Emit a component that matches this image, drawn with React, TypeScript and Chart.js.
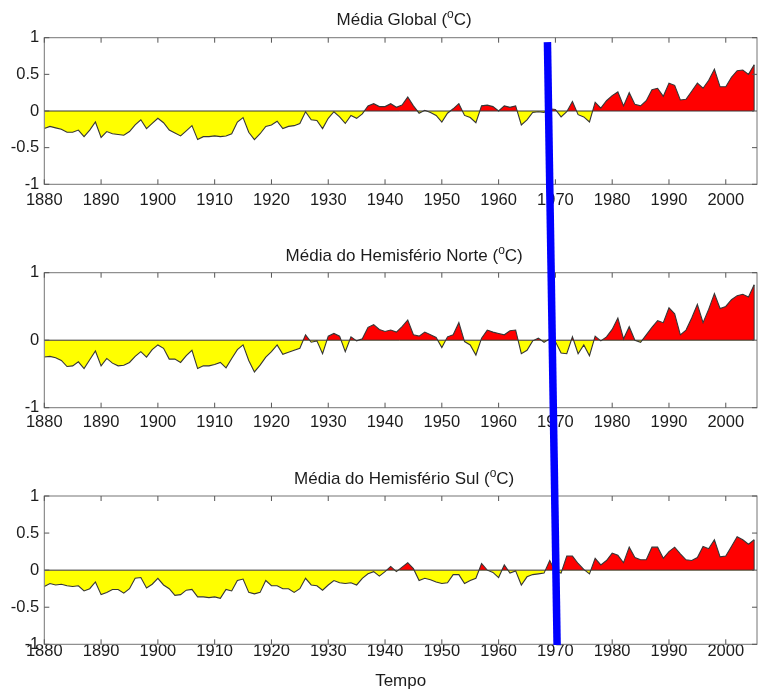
import React, { useEffect, useRef } from "react";
import { Chart, registerables } from "chart.js";

Chart.register(...registerables);

// Annual temperature anomalies (°C), one value per year starting at FIRST_YEAR.
const FIRST_YEAR = 1880;

const GLOBAL = [
  -0.24, -0.21, -0.23, -0.25, -0.29, -0.29, -0.26, -0.35, -0.26, -0.15,
  -0.36, -0.28, -0.31, -0.32, -0.33, -0.28, -0.19, -0.12, -0.24, -0.17,
  -0.10, -0.16, -0.26, -0.30, -0.34, -0.27, -0.20, -0.39, -0.35, -0.35,
  -0.34, -0.35, -0.34, -0.31, -0.15, -0.09, -0.29, -0.39, -0.31, -0.21,
  -0.19, -0.14, -0.24, -0.21, -0.20, -0.17, -0.01, -0.12, -0.13, -0.24,
  -0.10, -0.01, -0.08, -0.17, -0.06, -0.10, -0.04, 0.07, 0.10, 0.06,
  0.06, 0.10, 0.05, 0.08, 0.19, 0.07, -0.03, 0.01, -0.02, -0.06,
  -0.15, -0.03, 0.03, 0.10, -0.06, -0.09, -0.16, 0.07, 0.08, 0.06,
  0.00, 0.07, 0.05, 0.07, -0.19, -0.12, -0.02, -0.01, -0.02, 0.03,
  0.02, -0.08, -0.01, 0.13, -0.05, -0.08, -0.15, 0.12, 0.04, 0.14,
  0.21, 0.26, 0.07, 0.25, 0.09, 0.07, 0.14, 0.29, 0.31, 0.20,
  0.38, 0.35, 0.15, 0.16, 0.27, 0.38, 0.31, 0.42, 0.57, 0.33,
  0.33, 0.46, 0.55, 0.56, 0.50, 0.63,
];

const NORTH = [
  -0.25, -0.24, -0.26, -0.30, -0.39, -0.38, -0.32, -0.42, -0.29, -0.16,
  -0.38, -0.27, -0.34, -0.38, -0.37, -0.33, -0.24, -0.17, -0.25, -0.14,
  -0.07, -0.12, -0.28, -0.28, -0.33, -0.23, -0.15, -0.42, -0.38, -0.38,
  -0.36, -0.33, -0.41, -0.27, -0.14, -0.07, -0.30, -0.47, -0.37, -0.25,
  -0.17, -0.07, -0.21, -0.18, -0.15, -0.12, 0.08, -0.03, -0.01, -0.20,
  0.06, 0.10, 0.06, -0.17, 0.05, -0.01, 0.02, 0.19, 0.23, 0.16,
  0.13, 0.15, 0.12, 0.20, 0.30, 0.08, 0.06, 0.12, 0.08, 0.04,
  -0.11, 0.05, 0.08, 0.26, -0.02, -0.07, -0.22, 0.03, 0.15, 0.12,
  0.10, 0.08, 0.14, 0.15, -0.20, -0.15, -0.01, 0.03, -0.03, 0.02,
  -0.02, -0.19, -0.20, 0.05, -0.20, -0.07, -0.23, 0.06, -0.01, 0.05,
  0.16, 0.33, 0.02, 0.20, 0.00, -0.03, 0.08, 0.19, 0.29, 0.26,
  0.48, 0.39, 0.08, 0.15, 0.33, 0.53, 0.26, 0.46, 0.69, 0.47,
  0.50, 0.60, 0.66, 0.68, 0.64, 0.82,
];

const SOUTH = [
  -0.22, -0.18, -0.20, -0.19, -0.21, -0.22, -0.21, -0.28, -0.25, -0.16,
  -0.33, -0.30, -0.26, -0.26, -0.31, -0.25, -0.11, -0.10, -0.24, -0.19,
  -0.11, -0.20, -0.25, -0.34, -0.33, -0.27, -0.26, -0.36, -0.36, -0.37,
  -0.36, -0.38, -0.26, -0.28, -0.14, -0.12, -0.30, -0.32, -0.30, -0.14,
  -0.21, -0.21, -0.25, -0.25, -0.30, -0.25, -0.11, -0.20, -0.21, -0.27,
  -0.20, -0.14, -0.17, -0.18, -0.17, -0.20, -0.11, -0.05, -0.02, -0.08,
  -0.02, 0.05, -0.02, 0.04, 0.10, 0.02, -0.14, -0.11, -0.13, -0.16,
  -0.18, -0.17, -0.06, -0.06, -0.18, -0.14, -0.11, 0.09, 0.00, -0.03,
  -0.10, 0.07, -0.04, -0.01, -0.20, -0.09, -0.06, -0.05, -0.04, 0.13,
  -0.02, -0.04, 0.19, 0.19, 0.09, 0.01, -0.05, 0.16, 0.07, 0.13,
  0.23, 0.20, 0.10, 0.31, 0.17, 0.14, 0.14, 0.31, 0.31, 0.16,
  0.25, 0.31, 0.22, 0.14, 0.13, 0.17, 0.32, 0.29, 0.41, 0.18,
  0.19, 0.32, 0.45, 0.41, 0.35, 0.41,
];

const X_TICKS = [1880, 1890, 1900, 1910, 1920, 1930, 1940, 1950, 1960, 1970, 1980, 1990, 2000];
const Y_TICKS_FINE = [-1, -0.5, 0, 0.5, 1];
const Y_TICKS_COARSE = [-1, 0, 1];

const TITLES = ["Média Global", "Média do Hemisfério Norte", "Média do Hemisfério Sul"];
const UNIT_SUP = "o";
const UNIT_LETTER = "C";
const X_LABEL = "Tempo";

// Slanted marker line drawn across the three panels (year, anomaly at each end).
const MARKER = { topYear: 1968.6, topValue: 0.94, bottomYear: 1970.3, bottomValue: -1.01 };

// Styling
const FONT_FAMILY = '"Liberation Sans", Arial, Helvetica, sans-serif';
const TEXT_COLOR = "#1c1c1c";
const ABOVE_COLOR = "#ff0000";
const BELOW_COLOR = "#ffff00";
const LINE_COLOR = "#363636";
const FRAME_COLOR = "#757575";
const TICK_COLOR = "#555555";
const MARKER_COLOR = "#0000ff";
const WIDTH = 758;

type Panel = {
  series: number[];
  title: string;
  yTicks: number[];
  top: number;
  height: number;
  padTop: number;
  axisHeight: number;
  xTickPad: number;
  titleBaseline: number;
  xTitle: boolean;
};

const PANELS: Panel[] = [
  { series: GLOBAL, title: TITLES[0], yTicks: Y_TICKS_FINE, top: 0, height: 230, padTop: 37.7, axisHeight: 45.7, xTickPad: 5.8, titleBaseline: 25.3, xTitle: false },
  { series: NORTH, title: TITLES[1], yTicks: Y_TICKS_COARSE, top: 230, height: 230, padTop: 42.7, axisHeight: 52.3, xTickPad: 4.9, titleBaseline: 30.7, xTitle: false },
  { series: SOUTH, title: TITLES[2], yTicks: Y_TICKS_FINE, top: 460, height: 232, padTop: 36, axisHeight: 47.7, xTickPad: -2.5, titleBaseline: 24, xTitle: true },
];

const font = (size: number) => `${size}px ${FONT_FAMILY}`;

function decorPlugin(idx: number, charts: (Chart | null)[]) {
  const panel = PANELS[idx];
  return {
    id: "panelDecor" + idx,
    afterDatasetsDraw(chart: any) {
      const { ctx, chartArea: a, scales } = chart;
      const x = scales.x;
      const y = scales.y;
      const last = panel.series.length - 1;
      const lastYear = FIRST_YEAR + last;
      ctx.save();
      // zero baseline and closing edge of the area
      ctx.strokeStyle = LINE_COLOR;
      ctx.lineWidth = 1;
      ctx.beginPath();
      ctx.moveTo(x.getPixelForValue(FIRST_YEAR), y.getPixelForValue(0));
      ctx.lineTo(x.getPixelForValue(lastYear), y.getPixelForValue(0));
      ctx.lineTo(x.getPixelForValue(lastYear), y.getPixelForValue(panel.series[last]));
      ctx.stroke();

      // axes box
      ctx.strokeStyle = FRAME_COLOR;
      ctx.lineWidth = 1;
      ctx.strokeRect(a.left, a.top, a.right - a.left, a.bottom - a.top);

      // inward tick marks on all four sides
      const tl = 5;
      ctx.strokeStyle = TICK_COLOR;
      ctx.beginPath();
      X_TICKS.forEach((v) => {
        const px = x.getPixelForValue(v);
        ctx.moveTo(px, a.bottom);
        ctx.lineTo(px, a.bottom - tl);
        ctx.moveTo(px, a.top);
        ctx.lineTo(px, a.top + tl);
      });
      panel.yTicks.forEach((v) => {
        const py = y.getPixelForValue(v);
        ctx.moveTo(a.left, py);
        ctx.lineTo(a.left + tl, py);
        ctx.moveTo(a.right, py);
        ctx.lineTo(a.right - tl, py);
      });
      ctx.stroke();
      ctx.restore();
    },
    afterDraw(chart: any) {
      const { ctx, chartArea: a } = chart;
      ctx.save();
      // panel title with superscript degree sign
      const main = panel.title + " (";
      const tail = UNIT_LETTER + ")";
      ctx.fillStyle = TEXT_COLOR;
      ctx.textBaseline = "alphabetic";
      ctx.textAlign = "left";
      ctx.font = font(17);
      const wMain = ctx.measureText(main).width;
      const wTail = ctx.measureText(tail).width;
      ctx.font = font(12);
      const wSup = ctx.measureText(UNIT_SUP).width;
      const total = wMain + wSup + wTail;
      let tx = (a.left + a.right) / 2 + 3.5 - total / 2;
      const base = panel.titleBaseline;
      ctx.font = font(17);
      ctx.fillText(main, tx, base);
      tx += wMain;
      ctx.font = font(12);
      ctx.fillText(UNIT_SUP, tx, base - 7);
      tx += wSup;
      ctx.font = font(17);
      ctx.fillText(tail, tx, base);

      // marker line spanning all panels
      const first = charts[0];
      const third = charts[2];
      if (first && third) {
        const fs: any = first.scales;
        const ts: any = third.scales;
        const x0 = fs.x.getPixelForValue(MARKER.topYear);
        const y0 = PANELS[0].top + fs.y.getPixelForValue(MARKER.topValue);
        const x1 = ts.x.getPixelForValue(MARKER.bottomYear);
        const y1 = PANELS[2].top + ts.y.getPixelForValue(MARKER.bottomValue);
        ctx.strokeStyle = MARKER_COLOR;
        ctx.lineWidth = 7.5;
        ctx.lineCap = "butt";
        ctx.beginPath();
        ctx.moveTo(x0, y0 - panel.top);
        ctx.lineTo(x1, y1 - panel.top);
        ctx.stroke();
      }
      ctx.restore();
    },
  };
}

export default function App() {
  const refs = [useRef<HTMLCanvasElement>(null), useRef<HTMLCanvasElement>(null), useRef<HTMLCanvasElement>(null)];

  useEffect(() => {
    const charts: (Chart | null)[] = [null, null, null];
    PANELS.forEach((panel, idx) => {
      const canvas = refs[idx].current;
      if (!canvas) return;
      const points = panel.series.map((v, i) => ({ x: FIRST_YEAR + i, y: v }));
      charts[idx] = new Chart(canvas, {
        type: "line",
        data: {
          datasets: [
            {
              data: points,
              borderColor: LINE_COLOR,
              borderWidth: 1.1,
              pointRadius: 0,
              tension: 0,
              fill: { target: { value: 0 }, above: ABOVE_COLOR, below: BELOW_COLOR },
            },
          ],
        },
        options: {
          responsive: false,
          animation: false,
          devicePixelRatio: 1,
          events: [],
          layout: { padding: { top: panel.padTop, bottom: 0, left: 0, right: 1 } },
          plugins: {
            legend: { display: false },
            tooltip: { enabled: false },
            title: { display: false },
          },
          scales: {
            x: {
              type: "linear",
              min: FIRST_YEAR,
              max: 2005.5,
              grid: { display: false, drawTicks: false },
              border: { display: false },
              afterBuildTicks: (s: any) => {
                s.ticks = X_TICKS.map((v) => ({ value: v }));
              },
              afterFit: (s: any) => {
                s.height = panel.axisHeight;
              },
              ticks: {
                autoSkip: false,
                maxRotation: 0,
                padding: panel.xTickPad,
                color: TEXT_COLOR,
                font: { family: FONT_FAMILY, size: 16.5 },
                callback: (v: any) => String(v),
              },
              title: {
                display: panel.xTitle,
                text: X_LABEL,
                color: TEXT_COLOR,
                font: { family: FONT_FAMILY, size: 17 },
                padding: { top: 0, bottom: 0 },
              },
            },
            y: {
              min: -1,
              max: 1,
              grid: { display: false, drawTicks: false },
              border: { display: false },
              afterBuildTicks: (s: any) => {
                s.ticks = panel.yTicks.map((v) => ({ value: v }));
              },
              afterFit: (s: any) => {
                s.width = 44.3;
              },
              ticks: {
                padding: 5,
                color: TEXT_COLOR,
                font: { family: FONT_FAMILY, size: 16.5 },
                callback: (v: any) => String(v),
              },
            },
          },
        } as any,
        plugins: [decorPlugin(idx, charts)],
      });
    });
    // redraw once every panel exists so the marker can span them all
    charts.forEach((c) => c && c.draw());
    return () => {
      charts.forEach((c) => c && c.destroy());
    };
  }, []);

  return (
    <div style={{ position: "absolute", left: 0, top: 0, width: WIDTH, height: 692, background: "#ffffff" }}>
      {PANELS.map((p, i) => (
        <canvas
          key={i}
          ref={refs[i]}
          width={WIDTH}
          height={p.height}
          style={{ position: "absolute", left: 0, top: p.top, width: WIDTH, height: p.height, display: "block" }}
        />
      ))}
    </div>
  );
}
